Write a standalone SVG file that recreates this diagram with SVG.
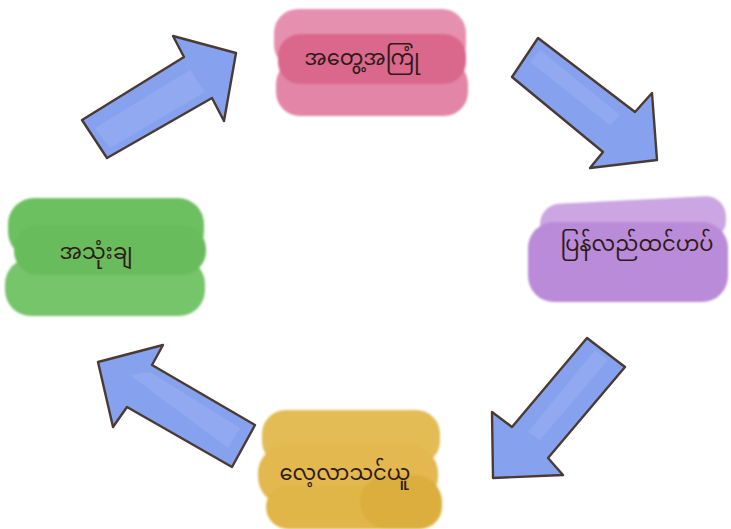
<svg xmlns="http://www.w3.org/2000/svg" width="731" height="529" viewBox="0 0 731 529">
<defs>
<style>
.lbl{font-family:"Noto Sans Myanmar","Padauk","Myanmar Text","Noto Sans",sans-serif;font-size:21px;fill:#2e1a17;text-anchor:middle;dominant-baseline:central}
.arr{fill:#86a2ee;stroke:#4b3a33;stroke-width:2.4;stroke-linejoin:round}
.hl{fill:#a3b8f3;opacity:0.35}
</style>
<filter id="soft" x="-5%" y="-5%" width="110%" height="110%"><feGaussianBlur stdDeviation="0.8"/></filter>
</defs>
<rect width="731" height="529" fill="#ffffff"/>

<g id="connectors">
<g id="arrow-green-pink">
<polygon class="arr" points="82,120 184,57 173,36 236,53 224,121 212,98 107,158"/>
<polygon class="hl" points="95,128 190,70 205,92 110,148"/>
</g>
<g id="arrow-pink-purple">
<polygon class="arr" points="538,38 635,112 652,93 657,160 590,168 603,152 512,77"/>
<polygon class="hl" points="530,62 540,50 620,115 610,125"/>
</g>
<g id="arrow-purple-yellow">
<polygon class="arr" points="587,338 625,367 548,458 563,475 493,478 492,412 512,427"/>
<polygon class="hl" points="595,350 608,360 540,440 528,432"/>
</g>
<g id="arrow-yellow-green">
<polygon class="arr" points="98,362 163,345 152,365 255,425 232,467 127,407 113,427"/>
<polygon class="hl" points="130,375 150,372 240,428 228,448"/>
</g>
</g>

<g id="node-experience">
<g filter="url(#soft)">
<rect x="274" y="9" width="192" height="60" rx="24" fill="#e690af"/>
<rect x="276" y="60" width="192" height="56" rx="24" fill="#e285a6"/>
<rect x="278" y="34" width="188" height="50" rx="22" fill="#da678d"/>
</g>
<text class="lbl" x="362" y="60">အတွေ့အကြုံ</text>
</g>

<g id="node-reflect">
<g filter="url(#soft)">
<rect x="540" y="200" width="186" height="44" rx="20" fill="#cba6e3" transform="rotate(-3 633 220)"/>
<rect x="528" y="222" width="200" height="80" rx="26" fill="#ba8bd8"/>
</g>
<text class="lbl" x="637" y="246">ပြန်လည်ထင်ဟပ်</text>
</g>

<g id="node-apply">
<g filter="url(#soft)">
<rect x="8" y="198" width="196" height="60" rx="26" fill="#6dc060"/>
<rect x="5" y="258" width="200" height="58" rx="26" fill="#76c56a"/>
<rect x="14" y="225" width="192" height="50" rx="24" fill="#69bc5b"/>
</g>
<text class="lbl" x="96" y="254">အသုံးချ</text>
</g>

<g id="node-learn">
<g filter="url(#soft)">
<rect x="262" y="410" width="178" height="55" rx="24" fill="#e3bc55"/>
<rect x="258" y="445" width="180" height="60" rx="28" fill="#e2b84f"/>
<rect x="266" y="485" width="176" height="44" rx="22" fill="#e1b64a"/>
<rect x="360" y="475" width="82" height="54" rx="27" fill="#dcae3e"/>
</g>
<text class="lbl" x="345" y="475">လေ့လာသင်ယူ</text>
</g>
</svg>
